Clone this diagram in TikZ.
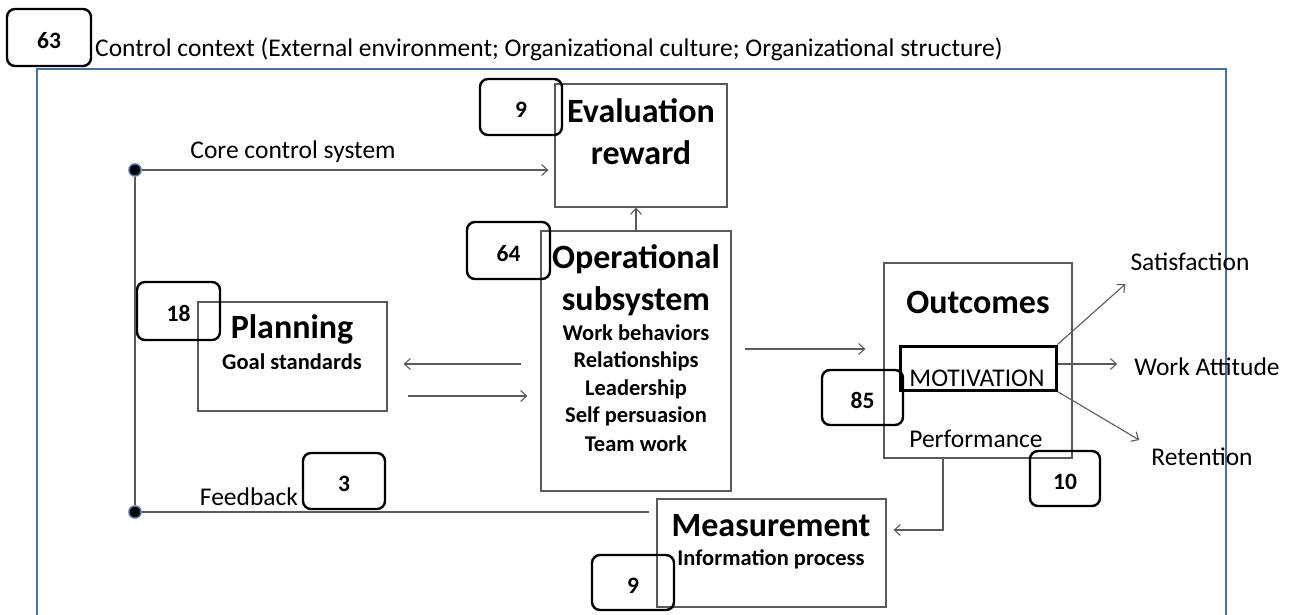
\documentclass[tikz,border=0pt]{standalone}
\usepackage{fontspec}
\setmainfont{Carlito}
\usetikzlibrary{arrows.meta,calc}
\definecolor{frameblue}{RGB}{72,112,170}
\definecolor{linegray}{RGB}{90,90,90}
\begin{document}
\begin{tikzpicture}[x=1pt,y=-1pt,
  box/.style={draw=linegray,line width=1.2pt,inner sep=0pt},
  numbox/.style={draw=black,line width=2.4pt,rounded corners=8pt,inner sep=0pt,text height=21pt,text depth=0pt,font=\fontsize{23.5}{23.5}\selectfont\bfseries},
  big/.style={font=\fontsize{34}{34}\selectfont\bfseries,inner sep=0pt},
  item/.style={font=\fontsize{22.5}{22.5}\selectfont\bfseries,inner sep=0pt},
  lab/.style={font=\fontsize{25.5}{25.5}\selectfont,inner sep=0pt},
  arr/.style={draw=linegray,line width=1.1pt,-{Straight Barb[length=6pt,width=11pt]}},
  ln/.style={draw=linegray,line width=1.1pt},
  dot/.style={circle,fill=black,draw=frameblue,line width=1.5pt,minimum size=12pt,inner sep=0pt}]
\useasboundingbox (0,0) rectangle (1293,614);
% frame
\draw[frameblue,line width=2.2pt] (37,620) -- (37,69) -- (1226,69) -- (1226,620);
\node[numbox,minimum width=84pt,minimum height=57pt] (n63) at (49,37.5) {63};
\node[lab,anchor=west] (ctx) at (95,49) {Control context (External environment; Organizational culture; Organizational structure)};
% boxes
\node[box,minimum width=172pt,minimum height=123pt] (eval) at (641,145.5) {};
\node[big] (evalt1) at (641,111) {Evaluation};
\node[big] (evalt2) at (641,153) {reward};
\node[numbox,minimum width=82pt,minimum height=56pt] (n9a) at (521,107) {9};
\node[box,minimum width=190pt,minimum height=260pt] (op) at (636,361) {};
\node[big] (opt1) at (636,259) {Operational};
\node[big] (opt2) at (636,301) {subsystem};
\node[item] (i1) at (636,333) {Work behaviors};
\node[item] (i2) at (636,361) {Relationships};
\node[item] (i3) at (636,389) {Leadership};
\node[item] (i4) at (636,416) {Self persuasion};
\node[item] (i5) at (636,444) {Team work};
\node[numbox,minimum width=83pt,minimum height=57pt] (n64) at (508.5,250.5) {64};
\node[box,minimum width=189pt,minimum height=109pt] (plan) at (292.5,356.5) {};
\node[big] (plant) at (292,329) {Planning};
\node[item] (plani) at (292,362) {Goal standards};
\node[numbox,minimum width=83pt,minimum height=58pt] (n18) at (178.5,311) {18};
\node[box,minimum width=188pt,minimum height=195pt] (out) at (978,360.5) {};
\node[big] (outt) at (978,302) {Outcomes};
\node[draw=black,line width=3pt,minimum width=156pt,minimum height=44pt,inner sep=0pt] (mot) at (978,368) {};
\node[lab] (mott) at (977,378) {MOTIVATION};
\node[lab] (perf) at (976,439) {Performance};
\node[numbox,minimum width=81pt,minimum height=55pt] (n85) at (862.5,397.5) {85};
\node[numbox,minimum width=70pt,minimum height=55pt] (n10) at (1065,478.5) {10};
\node[box,minimum width=229pt,minimum height=108pt] (meas) at (771.5,553) {};
\node[big] (meast) at (771,526) {Measurement};
\node[item] (measi) at (771,559) {Information process};
\node[numbox,minimum width=82pt,minimum height=55pt] (n9b) at (633,582.5) {9};
\node[numbox,minimum width=82pt,minimum height=56pt] (n3) at (344,481) {3};
% outcome labels
\node[lab] (sat) at (1190,262) {Satisfaction};
\node[lab] (wa) at (1207,367) {Work Attitude};
\node[lab] (ret) at (1202,457) {Retention};
% control loop
\node[dot] (dtop) at (135,170) {};
\node[dot] (dbot) at (135,512) {};
\node[lab] (core) at (293,152) {Core control system};
\node[lab] (fb) at (249,497) {Feedback};
\draw[ln] (dtop) -- (dbot);
\draw[arr,shorten >=6pt] (dtop) -- (dtop -| eval.west);
\draw[ln,shorten >=7pt] (dbot) -- (dbot -| meas.west);
% connectors
\draw[arr] (op.north) -- (op.north |- eval.south);
\draw[arr] ([xshift=-19pt,yshift=-3pt]op.west) -- ([xshift=16pt,yshift=-3pt]op.west -| plan.east);
\draw[arr] ([xshift=20pt,yshift=-35pt]op.west -| plan.east) -- ([xshift=-13pt,yshift=-35pt]op.west);
\draw[arr] ([xshift=13pt,yshift=12pt]op.east) -- ([xshift=-18pt,yshift=12pt]op.east -| out.west);
\draw[arr] (mot.north east) -- ([xshift=-5pt,yshift=-13pt]sat.south west);
\draw[arr] ([yshift=4pt]mot.east) -- ([xshift=-17pt,yshift=4pt]mot.east -| wa.west);
\draw[arr] (mot.south east) -- ([xshift=-12pt,yshift=17pt]ret.west);
\draw[arr] ([xshift=-35pt]out.south) |- ([xshift=7pt,yshift=23pt]meas.east);
\end{tikzpicture}
\end{document}
